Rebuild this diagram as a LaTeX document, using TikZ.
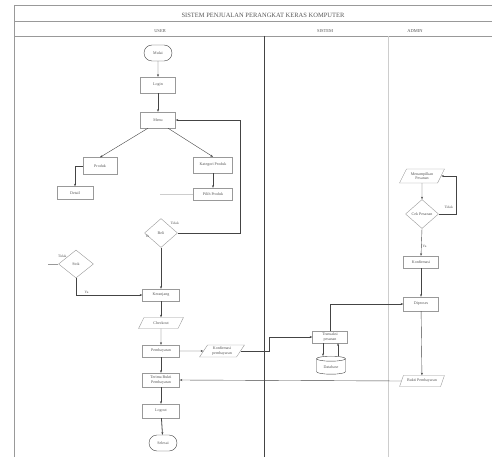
\documentclass[tikz,border=0pt]{standalone}
\usepackage{fontspec}
\setmainfont{Liberation Serif}
\definecolor{ink}{HTML}{444444}
\definecolor{edge}{HTML}{999999}
\definecolor{txt}{HTML}{555555}
\definecolor{lanegray}{HTML}{CDCDCD}
\usetikzlibrary{arrows.meta,positioning,shapes.geometric,shapes.misc}
\tikzset{
  box/.style={draw=edge,line width=0.4pt,fill=white,align=center,text=txt,
              minimum width=37pt,minimum height=12pt,inner sep=1pt,
              font=\fontsize{4}{4.6}\selectfont},
  term/.style={box,rounded rectangle,draw=ink,minimum width=30pt,minimum height=16pt},
  dec/.style={box,diamond,minimum width=33pt,minimum height=29pt,inner sep=0pt},
  io/.style={box,trapezium,trapezium left angle=60,trapezium right angle=120,
             trapezium stretches=true,minimum width=45pt,minimum height=11pt},
  db/.style={box,cylinder,shape border rotate=90,aspect=0.3,draw=ink,
             minimum width=29pt,minimum height=18pt},
  arr/.style={-{Stealth[length=2.6pt,width=2pt]},ink,line width=0.4pt},
  barr/.style={arr,line width=0.8pt},
  lbl/.style={font=\fontsize{3.6}{4}\selectfont,inner sep=1pt,text=txt}
}
\begin{document}
\begin{tikzpicture}[x=1pt,y=-1pt]
    \useasboundingbox (0,0) rectangle (492,457);
    \draw[edge,line width=0.8pt] (14,5) -- (492,5);
    \draw[edge,line width=0.6pt] (14,5) -- (14,457);
    \draw[edge,line width=0.6pt] (14,21) -- (492,21);
    \draw[edge,line width=0.6pt] (14,36) -- (492,36);
    \draw[ink,line width=0.6pt] (264,36) -- (264,457);
    \draw[lanegray,line width=0.6pt] (388,36) -- (388,457);
    \node[font=\fontsize{6.5}{7}\selectfont,text=txt] (judul) at (263,15) {SISTEM PENJUALAN PERANGKAT KERAS KOMPUTER};
    \node[font=\fontsize{4.5}{5}\selectfont,text=txt] (luser)   at (160,31) {USER};
    \node[font=\fontsize{4.5}{5}\selectfont,text=txt] (lsistem) at (325,31) {SISTEM};
    \node[font=\fontsize{4.5}{5}\selectfont,text=txt] (ladmin)  at (415,31) {ADMIN};

    \node[term] (mulai) at (158,53) {Mulai};
    \node[box,minimum width=35pt,minimum height=16pt] (login) at (158,85) {Login};
    \node[box,minimum width=35pt,minimum height=16pt] (menu) at (158,120) {Menu};
    \node[box,minimum width=34pt,minimum height=17pt] (produk) at (100,166) {Produk};
    \node[box,minimum width=39pt,minimum height=16pt] (kategori) at (213,165) {Kategori Produk};
    \node[box,minimum width=36pt,minimum height=13pt] (detail) at (75,193) {Detail};
    \node[box,minimum width=39pt] (pilih) at (213,194) {Pilih Produk};
    \node[dec] (beli) at (161,233) {Beli};
    \node[dec,minimum width=35pt,minimum height=28pt] (stok) at (76,264) {Stok};
    \node[box] (keranjang) at (161,295) {Keranjang};
    \node[io] (checkout) at (161,323) {Checkout};
    \node[box] (bayar) at (161,351) {Pembayaran};
    \node[io,minimum height=12pt] (konfirm) at (222,351) {Konfirmasi\\pembayaran};
    \node[box,minimum width=35pt] (simpan) at (330,337) {Transaksi\\pesanan};
    \node[db] (data) at (331,367) {Database};
    \node[io,minimum height=14pt] (tampil) at (422,176) {Menampilkan\\Pesanan};
    \node[dec] (cek) at (422,214) {Cek Pesanan};
    \node[box,minimum width=35pt] (verif) at (421,262) {Konfirmasi};
    \node[box,minimum width=35pt,minimum height=14pt] (proses) at (421,304) {Diproses};
    \node[io] (bukti) at (422,381) {Bukti Pembayaran};
    \node[box,minimum height=14pt] (terima) at (161,380) {Terima Bukti\\Pembayaran};
    \node[box,minimum height=14pt] (logout) at (161,411) {Logout};
    \node[term] (selesai) at (163,443) {Selesai};

    \coordinate (pstub) at (160,194);
    \coordinate (sstub) at (48,264);

    \draw[arr] (mulai) -- (login);
    \draw[arr] (login) -- (menu);
    \draw[arr] ([xshift=-10pt]menu.south) -- (produk.north);
    \draw[arr] ([xshift=10pt]menu.south) -- (kategori.north);
    \draw[arr] (produk.west) -| (detail.north);
    \draw[arr] (kategori) -- (pilih);
    \draw[lanegray] (pstub) -- (pilih.west);
    \draw[arr] (beli.east) -- node[lbl,at start,above=7pt,xshift=-3pt]{Tidak} ++(62,0) |- (menu.east);
    \draw[arr] (beli.south) -- (keranjang.north);
    \node[lbl,below right=1pt and 0pt] (yabeli) at (beli.west) {Ya};
    \draw[edge] (sstub) -- node[lbl,at end,above=5pt,xshift=4pt]{Tidak} (stok.west);
    \draw[arr] (stok.south) |- node[lbl,pos=0.58,above]{Ya} (keranjang.west);
    \draw[arr] (keranjang) -- (checkout);
    \draw[arr] (checkout) -- (bayar);
    \draw[arr] (bayar) -- (konfirm);
    \draw[arr] (konfirm.east) -- ++(28,0) |- (simpan.west);
    \draw[arr] ([xshift=-7pt]simpan.south) -- ([xshift=-7pt]simpan.south |- data.north);
    \draw[arr] ([xshift=8pt]simpan.south |- data.north) -- ([xshift=8pt]simpan.south);
    \draw[arr] (simpan.north) |- (proses.west);
    \draw[arr] (tampil) -- (cek);
    \draw[arr] (cek.east) -- node[lbl,at end,above=4pt,xshift=-7pt]{Tidak} ++(17,0) |- (tampil.east);
    \draw[arr] (cek.south) -- node[lbl,pos=0.65,right]{Ya} (verif.north);
    \draw[arr] (verif) -- (proses);
    \draw[arr] (proses) -- (bukti);
    \draw[arr] (bukti.west) -- (terima.east);
    \draw[arr] (bayar) -- (terima);
    \draw[barr] (terima) -- (logout);
    \draw[barr] (logout) -- (selesai);
\end{tikzpicture}
\end{document}
